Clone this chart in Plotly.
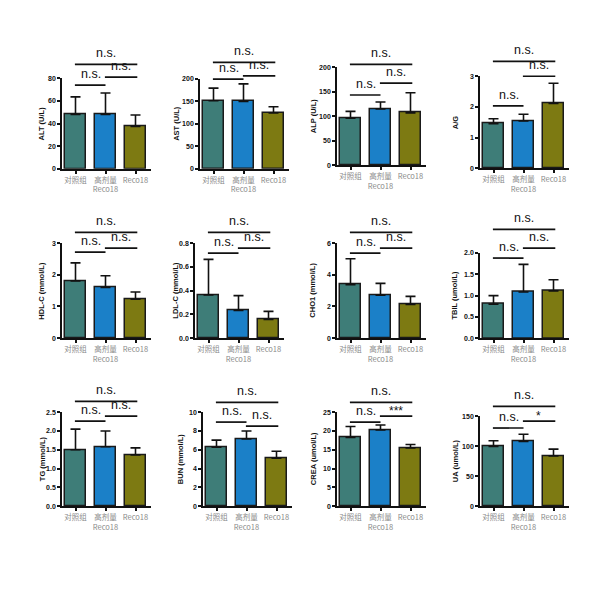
import plotly.graph_objects as go

# ---------------- data ----------------
groups = ["对照组", "高剂量<br>Reco18", "Reco18"]
group_x = [0, 1, 2]

titles = ["ALT (U/L)", "AST (U/L)", "ALP (U/L)", "A/G",
          "HDL-C (mmol/L)", "LDL-C (mmol/L)", "CHO1 (mmol/L)", "TBIL (umol/L)",
          "TG (mmol/L)", "BUN (mmol/L)", "CREA (umol/L)", "UA (umol/L)"]

means = [
    [48, 48, 37.5],
    [151.5, 150, 124],
    [96, 115, 107],
    [1.45, 1.54, 2.11],
    [1.81, 1.60, 1.23],
    [0.364, 0.233, 0.158],
    [3.38, 2.71, 2.13],
    [0.80, 1.085, 1.11],
    [1.50, 1.58, 1.36],
    [6.26, 7.14, 5.10],
    [18.3, 20.3, 15.5],
    [99.4, 108, 83.5],
]
sds = [
    [15.5, 19, 10],
    [28, 39, 14],
    [14, 14, 41],
    [0.16, 0.22, 0.66],
    [0.57, 0.37, 0.23],
    [0.30, 0.125, 0.067],
    [1.64, 0.75, 0.51],
    [0.20, 0.645, 0.26],
    [0.55, 0.42, 0.19],
    [0.77, 0.86, 0.74],
    [2.9, 1.3, 0.9],
    [9.6, 11.7, 11.5],
]
tick_vals = [
    [0, 20, 40, 60, 80],
    [0, 50, 100, 150, 200],
    [0, 50, 100, 150, 200],
    [0, 1, 2, 3],
    [0, 1, 2, 3],
    [0, 0.2, 0.4, 0.6, 0.8],
    [0, 2, 4, 6],
    [0, 0.5, 1.0, 1.5, 2.0],
    [0, 0.5, 1.0, 1.5, 2.0, 2.5],
    [0, 2, 4, 6, 8, 10],
    [0, 5, 10, 15, 20, 25],
    [0, 50, 100, 150],
]
tick_fmt = ["", "", "", "", "", ".1f", "", ".1f", ".1f", "", "", ""]
# significance labels: [top (0 vs 2), left (0 vs 1), right (1 vs 2)]
sig_labels = [["n.s.", "n.s.", "n.s."]] * 10 + [["n.s.", "n.s.", "***"], ["n.s.", "n.s.", "*"]]

colors = ["#3E7D78", "#1B80C8", "#7D7A12"]

# ---------------- layout (pixels, page coordinates) ----------------
W, H = 600, 592
OFF = 8  # default page body margin
# (y-axis x px, y=0 px, top tick px, title offset px)
panel_geo = [
    (62, 166.7, 75, 20), (200, 166.7, 75.7, 23), (337, 163, 64, 24), (480, 166, 73, 25),
    (62, 338, 242, 20), (195, 338, 242, 19), (337, 338, 242, 24), (480, 338.3, 251.7, 25),
    (62, 508, 413, 20), (203, 508, 413, 23), (337, 508, 413, 24), (480, 508, 417, 25),
]
# bracket line px heights: top, left, right
bracket_px = [
    (61, 82, 74), (59, 76, 72.7), (61, 92, 80), (58, 103, 73),
    (231, 251, 247), (231, 252, 247), (231, 252, 247), (228, 257, 247),
    (402, 422, 417), (403, 423, 427), (403, 423, 417), (407, 429, 422),
]
XR = [-0.45, 2.5]
PX_PER_UNIT = 30
AX_W = (XR[1] - XR[0]) * PX_PER_UNIT
FONT = "Liberation Sans, Arial, sans-serif"


def px_x(p):
    return (p - OFF) / W


def px_y(p):
    return 1 - (p - OFF) / H


fig = go.Figure()
shapes = []
annotations = []
layout_axes = {}

for i in range(12):
    n = i + 1
    xa = "x" if n == 1 else f"x{n}"
    ya = "y" if n == 1 else f"y{n}"
    ax_px, y0_px, ytop_px, toff = panel_geo[i]
    ymax = tick_vals[i][-1]

    fig.add_trace(go.Bar(
        x=group_x, y=means[i], xaxis=xa, yaxis=ya,
        width=0.68,
        marker=dict(color=colors, line=dict(color="#1a1a1a", width=1.5)),
        error_y=dict(type="data", symmetric=False, array=sds[i],
                     arrayminus=[0, 0, 0], color="#111", thickness=1.6, width=5),
        showlegend=False, hoverinfo="skip",
    ))

    layout_axes["xaxis" + ("" if n == 1 else str(n))] = dict(
        domain=[px_x(ax_px), px_x(ax_px + AX_W)], range=XR, anchor=ya,
        tickmode="array", tickvals=group_x, ticktext=groups,
        ticks="outside", ticklen=3, tickwidth=1.5, tickcolor="#111",
        showline=True, linecolor="#111", linewidth=1.6, showgrid=False, zeroline=False,
        tickfont=dict(family="Noto Sans CJK SC", size=7.5, color="#8a8a8a"),
        fixedrange=True,
    )
    layout_axes["yaxis" + ("" if n == 1 else str(n))] = dict(
        domain=[px_y(y0_px), px_y(ytop_px)], range=[0, ymax], anchor=xa,
        tickmode="array", tickvals=tick_vals[i], tickformat=tick_fmt[i],
        ticks="outside", ticklen=3, tickwidth=1.5, tickcolor="#111",
        showline=True, linecolor="#111", linewidth=1.6, showgrid=False, zeroline=False,
        tickfont=dict(family=FONT, size=7, color="#111", weight="bold"),
        fixedrange=True,
    )

    # y axis title
    annotations.append(dict(
        xref="paper", yref="paper", x=px_x(ax_px - toff), y=px_y((y0_px + ytop_px) / 2),
        text=titles[i], textangle=-90, showarrow=False,
        font=dict(family=FONT, size=7.5, color="#111", weight="bold"),
        xanchor="center", yanchor="middle",
    ))

    # significance brackets
    pairs = [(0, 2), (0, 1), (1, 2)]
    for k, (a, b) in enumerate(pairs):
        yp = px_y(bracket_px[i][k])
        x0 = group_x[a] - 0.02
        x1 = group_x[b] + (0.06 if b == 2 else 0.0)
        shapes.append(dict(type="line", xref=xa, yref="paper",
                           x0=x0, x1=x1, y0=yp, y1=yp,
                           line=dict(color="#111", width=1.7)))
        lab = sig_labels[i][k]
        star = lab.startswith("*")
        annotations.append(dict(
            xref=xa, yref="paper", x=(group_x[a] + group_x[b]) / 2, y=yp,
            text=lab, showarrow=False, xanchor="center", yanchor="bottom",
            yshift=-4 if star else 2,
            font=dict(family=FONT, size=12.5 if not star else 12, color="#111"),
        ))

fig.update_layout(
    width=W, height=H, margin=dict(l=0, r=0, t=0, b=0),
    paper_bgcolor="white", plot_bgcolor="white",
    shapes=shapes, annotations=annotations, bargap=0,
    **layout_axes,
)

fig.write_html("out.html")
